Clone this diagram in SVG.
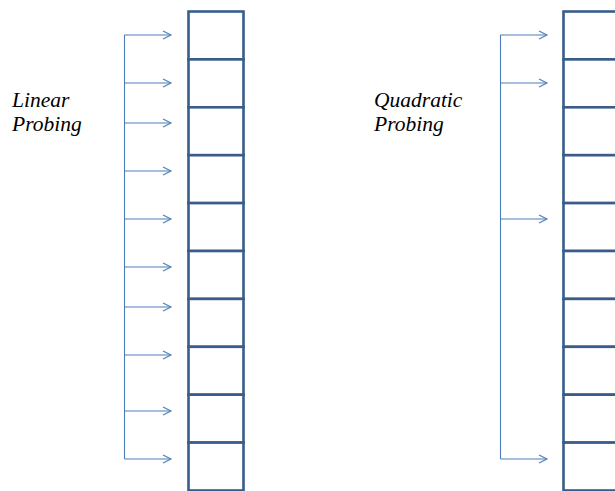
<svg xmlns="http://www.w3.org/2000/svg" width="615" height="491" viewBox="0 0 615 491">
  <style>
    .cell { fill: #ffffff; stroke: #385d8a; stroke-width: 2.6; }
    .wire { fill: none; stroke: #4a7ebb; stroke-width: 1.1; }
    .label { font-family: "Liberation Serif", "Times New Roman", Times, serif; font-style: italic; font-size: 21.5px; fill: #000000; }
  </style>
  <defs>
    <marker id="chev" markerUnits="userSpaceOnUse" markerWidth="12" markerHeight="12" refX="9" refY="5" orient="auto" viewBox="0 0 12 10">
      <path d="M1,1 L9,5 L1,9" fill="none" stroke="#4a7ebb" stroke-width="1.1"/>
    </marker>
  </defs>
  <rect width="615" height="491" fill="#ffffff"/>

  <!-- labels -->
  <g id="label-linear">
    <text class="label" x="12" y="107"><tspan x="12">Linear</tspan><tspan x="12" dy="24">Probing</tspan></text>
  </g>
  <g id="label-quadratic">
    <text class="label" x="374" y="107"><tspan x="374">Quadratic</tspan><tspan x="374" dy="24">Probing</tspan></text>
  </g>

  <!-- hash table, linear probing -->
  <g id="table-linear">
    <rect class="cell" x="188.5" y="11.5" width="55" height="47.9"/>
    <rect class="cell" x="188.5" y="59.4" width="55" height="47.9"/>
    <rect class="cell" x="188.5" y="107.3" width="55" height="47.9"/>
    <rect class="cell" x="188.5" y="155.2" width="55" height="47.9"/>
    <rect class="cell" x="188.5" y="203.1" width="55" height="47.9"/>
    <rect class="cell" x="188.5" y="251.0" width="55" height="47.9"/>
    <rect class="cell" x="188.5" y="298.9" width="55" height="47.9"/>
    <rect class="cell" x="188.5" y="346.8" width="55" height="47.9"/>
    <rect class="cell" x="188.5" y="394.7" width="55" height="47.9"/>
    <rect class="cell" x="188.5" y="442.6" width="55" height="47.9"/>
  </g>

  <!-- hash table, quadratic probing -->
  <g id="table-quadratic">
    <rect class="cell" x="563.5" y="11.5" width="70" height="47.9"/>
    <rect class="cell" x="563.5" y="59.4" width="70" height="47.9"/>
    <rect class="cell" x="563.5" y="107.3" width="70" height="47.9"/>
    <rect class="cell" x="563.5" y="155.2" width="70" height="47.9"/>
    <rect class="cell" x="563.5" y="203.1" width="70" height="47.9"/>
    <rect class="cell" x="563.5" y="251.0" width="70" height="47.9"/>
    <rect class="cell" x="563.5" y="298.9" width="70" height="47.9"/>
    <rect class="cell" x="563.5" y="346.8" width="70" height="47.9"/>
    <rect class="cell" x="563.5" y="394.7" width="70" height="47.9"/>
    <rect class="cell" x="563.5" y="442.6" width="70" height="47.9"/>
  </g>

  <!-- probe sequences -->
  <g id="connectors">
    <path class="wire" d="M124.5,35 V459"/>
    <path class="wire" marker-end="url(#chev)" d="M124.5,35 H171"/>
    <path class="wire" marker-end="url(#chev)" d="M124.5,83 H171"/>
    <path class="wire" marker-end="url(#chev)" d="M124.5,123 H171"/>
    <path class="wire" marker-end="url(#chev)" d="M124.5,171 H171"/>
    <path class="wire" marker-end="url(#chev)" d="M124.5,219 H171"/>
    <path class="wire" marker-end="url(#chev)" d="M124.5,267 H171"/>
    <path class="wire" marker-end="url(#chev)" d="M124.5,307 H171"/>
    <path class="wire" marker-end="url(#chev)" d="M124.5,355 H171"/>
    <path class="wire" marker-end="url(#chev)" d="M124.5,411 H171"/>
    <path class="wire" marker-end="url(#chev)" d="M124.5,459 H171"/>

    <path class="wire" d="M500.5,35 V459"/>
    <path class="wire" marker-end="url(#chev)" d="M500.5,35 H547"/>
    <path class="wire" marker-end="url(#chev)" d="M500.5,83 H547"/>
    <path class="wire" marker-end="url(#chev)" d="M500.5,219 H547"/>
    <path class="wire" marker-end="url(#chev)" d="M500.5,459 H547"/>
  </g>
</svg>
